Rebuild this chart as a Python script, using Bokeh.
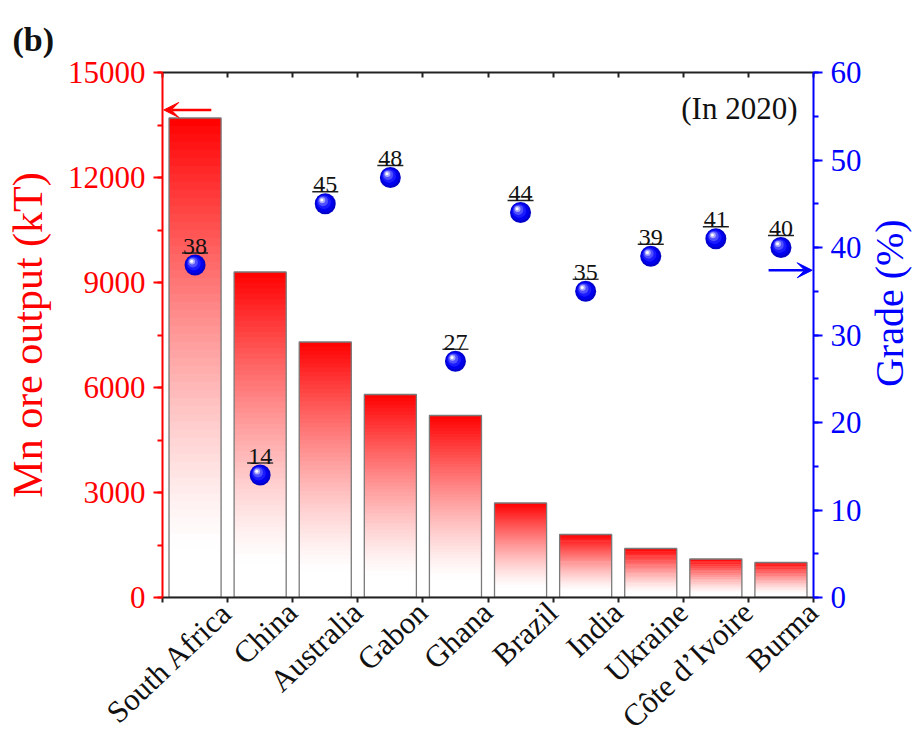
import math
from bokeh.plotting import figure
from bokeh.layouts import row
from bokeh.models import (Range1d, LinearAxis, FixedTicker, SingleIntervalTicker,
                          ColumnDataSource, Arrow, VeeHead, Label)
from bokeh.core.properties import value
from bokeh.embed import file_html
from bokeh.resources import INLINE

# Manganese ore output and ore grade by country, 2020
countries = ["South Africa", "China", "Australia", "Gabon", "Ghana",
             "Brazil", "India", "Ukraine", "Côte d’Ivoire", "Burma"]
output_kt = [13700, 9300, 7300, 5800, 5200, 2700, 1800, 1400, 1100, 1000]
grade_pct = [38, 14, 45, 48, 27, 44, 35, 39, 41, 40]

SERIF = "Liberation Serif"
RED = "#ff0000"
BLUE = "#0000ff"

W, H = 913, 751
TITLE_STRIP = 48                      # narrow strip on the right for "Grade (%)"
LEFT, RIGHT, TOP, BOTTOM = 162, 52, 72, 154
MAIN_W = W - TITLE_STRIP
frame_w = MAIN_W - LEFT - RIGHT
frame_h = H - TOP - BOTTOM
OUT_MAX, GRADE_MAX = 15000, 60

n = len(countries)
xs = list(range(1, n + 1))

p = figure(width=MAIN_W, height=H, output_backend="svg", toolbar_location=None,
           x_range=Range1d(0.5, n + 0.5), y_range=Range1d(0, OUT_MAX),
           min_border_left=LEFT, min_border_right=RIGHT,
           min_border_top=TOP, min_border_bottom=BOTTOM,
           x_axis_location=None, y_axis_location=None)
p.outline_line_color = None
p.grid.visible = False
p.background_fill_color = "white"
p.border_fill_color = "white"
p.extra_y_ranges = {"grade": Range1d(0, GRADE_MAX)}

# panel label "(b)" in the top-left corner
p.title.text = "(b)"
p.title.align = "left"
p.title.offset = -150
p.title.standoff = 30
p.title.text_font = SERIF
p.title.text_font_size = "34px"
p.title.text_font_style = "bold"
p.title.text_line_height = 0.75
p.title.text_color = "#111111"

px_per_x = frame_w / float(n)
px_per_grade = frame_h / float(GRADE_MAX)

# ---- bars with a vertical red-to-white gradient ----
bar_w = 0.8
steps = 60
left, right, bottom, top, colors = [], [], [], [], []
for x, v in zip(xs, output_kt):
    dv = v / steps
    for k in range(steps):
        f = (k + 0.5) / steps
        a = max(0.0, (f - 0.1) / 0.9) ** 1.3
        g = int(round(255 * (1 - a)))
        colors.append("#ff%02x%02x" % (g, g))
        left.append(x - bar_w / 2)
        right.append(x + bar_w / 2)
        bottom.append(k * dv)
        top.append(min(v, (k + 1) * dv + dv * 0.6))
p.quad(left=left, right=right, bottom=bottom, top=top,
       fill_color=colors, line_color=None)
p.quad(left=[x - bar_w / 2 for x in xs], right=[x + bar_w / 2 for x in xs],
       bottom=0, top=output_kt, fill_color=None, line_color="#7a7a7a", line_width=1.3)

# ---- grade markers drawn as shaded spheres ----
def shifted(dx_px, dy_px):
    return ([x + dx_px / px_per_x for x in xs],
            [g + dy_px / px_per_grade for g in grade_pct])

layers = [(21, 0, 0, "#0000c8"), (18, -0.5, 0.7, "#0000ee"),
          (14, -1.3, 1.6, "#1a1aff"), (10, -2.2, 2.6, "#5050ff"),
          (6, -3.0, 3.4, "#a8a8ff"), (3, -3.4, 3.8, "#ffffff")]
for size, dx, dy, c in layers:
    sx, sy = shifted(dx, dy)
    p.scatter(sx, sy, size=size, fill_color=c, line_color=None, y_range_name="grade")

# value labels with a short rule under each
rule_y = [g + 12 / px_per_grade for g in grade_pct]
p.segment(x0=[x - 13 / px_per_x for x in xs], x1=[x + 13 / px_per_x for x in xs],
          y0=rule_y, y1=rule_y, line_color="#222222", line_width=1.3,
          y_range_name="grade")
src = ColumnDataSource(dict(x=xs, y=[g + 11.5 / px_per_grade for g in grade_pct],
                            t=[str(g) for g in grade_pct]))
p.text(x="x", y="y", text="t", source=src, y_range_name="grade",
       text_align="center", text_baseline="bottom",
       text_font=value(SERIF), text_font_size="24px", text_color="#111111")

# ---- axes ----
boundaries = [x + 0.5 for x in range(0, n + 1)]
label_shift = 0.49
label_pos = [round(x + label_shift, 2) for x in xs]

xb = LinearAxis(ticker=FixedTicker(ticks=label_pos, minor_ticks=boundaries),
                major_label_overrides={t: c for t, c in zip(label_pos, countries)})
xb.axis_line_color = "#222222"
xb.axis_line_width = 2
xb.major_tick_line_color = None
xb.major_tick_out = 0
xb.major_tick_in = 0
xb.minor_tick_line_color = "#222222"
xb.minor_tick_line_width = 2
xb.minor_tick_out = 5
xb.minor_tick_in = 0
xb.major_label_orientation = 0.76
xb.major_label_standoff = 5
xb.major_label_text_font = SERIF
xb.major_label_text_font_size = "31px"
xb.major_label_text_line_height = 1.0
xb.major_label_text_color = "#111111"
p.add_layout(xb, "below")

xt = LinearAxis(ticker=FixedTicker(ticks=[], minor_ticks=boundaries))
xt.axis_line_color = "#222222"
xt.axis_line_width = 2
xt.major_tick_line_color = None
xt.major_tick_out = 0
xt.minor_tick_line_color = "#222222"
xt.minor_tick_line_width = 2
xt.minor_tick_out = 0
xt.minor_tick_in = 5
xt.major_label_text_font_size = "0px"
xt.major_label_standoff = 0
p.add_layout(xt, "above")

yl = LinearAxis(ticker=SingleIntervalTicker(interval=3000, num_minor_ticks=2),
                axis_label="Mn ore output (kT)")
yr = LinearAxis(ticker=SingleIntervalTicker(interval=10, num_minor_ticks=2),
                y_range_name="grade")
for ax, col in ((yl, RED), (yr, BLUE)):
    ax.axis_line_color = col
    ax.axis_line_width = 2
    ax.major_tick_line_color = col
    ax.major_tick_line_width = 2
    ax.minor_tick_line_color = col
    ax.minor_tick_line_width = 2
    ax.major_tick_out = 9
    ax.major_tick_in = 0
    ax.minor_tick_out = 5
    ax.minor_tick_in = 0
    ax.major_label_text_font = SERIF
    ax.major_label_text_font_size = "31px"
    ax.major_label_text_color = col
    ax.major_label_standoff = 8
yl.axis_label_text_font = SERIF
yl.axis_label_text_font_size = "42px"
yl.axis_label_text_font_style = "normal"
yl.axis_label_text_line_height = 1.0
yl.axis_label_text_color = RED
yl.axis_label_standoff = 14
p.add_layout(yl, "left")
p.add_layout(yr, "right")

# ---- arrows pointing to the axis each series uses ----
to_out = OUT_MAX / GRADE_MAX          # grade units -> output-axis units
p.add_layout(Arrow(end=VeeHead(size=15, fill_color=RED, line_color=RED),
                   x_start=1.25, y_start=13930, x_end=0.52, y_end=13930,
                   line_color=RED, line_width=2.5))
p.add_layout(Arrow(end=VeeHead(size=15, fill_color=BLUE, line_color=BLUE),
                   x_start=9.81, y_start=37.4 * to_out, x_end=10.48, y_end=37.4 * to_out,
                   line_color=BLUE, line_width=2.5))

p.add_layout(Label(x=frame_w - 16, y=frame_h - 53, x_units="screen", y_units="screen",
                   text="(In 2020)", text_align="right", text_baseline="bottom",
                   text_font=SERIF, text_font_size="31px", text_color="#111111"))

# ---- right-hand axis title, reading bottom to top ----
q = figure(width=TITLE_STRIP, height=H, output_backend="svg", toolbar_location=None,
           x_range=Range1d(0, TITLE_STRIP), y_range=Range1d(0, H),
           min_border=0, x_axis_location=None, y_axis_location=None)
q.outline_line_color = None
q.grid.visible = False
q.border_fill_color = "white"
q.text(x=[24], y=[H - 330], text=["Grade (%)"], angle=math.pi / 2,
       text_align="center", text_baseline="middle", text_font=value(SERIF),
       text_font_size="40px", text_color=BLUE)

layout = row(p, q, spacing=0)
open("out.html", "w").write(file_html(layout, INLINE))
